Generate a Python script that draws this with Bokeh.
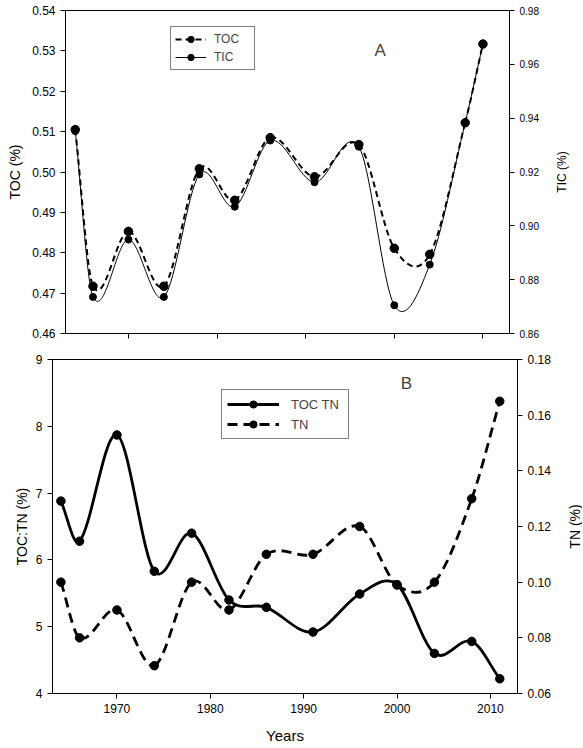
import math
import numpy as np
from bokeh.plotting import figure
from bokeh.layouts import column, row
from bokeh.core.properties import value
from bokeh.models import (Range1d, LinearAxis, FixedTicker, NumeralTickFormatter,
                          Legend, LegendItem, Label, ColumnDataSource)
from bokeh.embed import file_html
from bokeh.resources import INLINE

# panel A
years_a = [1964, 1966, 1970, 1974, 1978, 1982, 1986, 1991, 1996, 2000, 2004, 2008, 2010]
toc = [0.5105, 0.4717, 0.4853, 0.4717, 0.5008, 0.4930, 0.5085, 0.4988, 0.5068,
       0.4811, 0.4796, 0.5122, 0.5317]
tic = [0.9352, 0.8736, 0.8949, 0.8736, 0.9191, 0.9071, 0.9317, 0.9162, 0.9294,
       0.8705, 0.8856, 0.9383, 0.9676]

# panel B
years_b = [1964, 1966, 1970, 1974, 1978, 1982, 1986, 1991, 1996, 2000, 2004, 2008, 2011]
toc_tn = [6.88, 6.28, 7.87, 5.83, 6.40, 5.40, 5.29, 4.92, 5.49, 5.63, 4.60, 4.78, 4.22]
tn = [0.100, 0.080, 0.090, 0.070, 0.100, 0.090, 0.110, 0.110, 0.120, 0.099, 0.100, 0.130, 0.165]

year_ticks = [1970, 1980, 1990, 2000, 2010]

FONT = "Liberation Sans"


def smooth(xs, ys):
    # bezier pieces through the points (cardinal-spline tangents)
    x = np.asarray(xs, float)
    y = np.asarray(ys, float)
    m = np.empty_like(y)
    m[1:-1] = (y[2:] - y[:-2]) / (x[2:] - x[:-2])
    m[0] = (y[1] - y[0]) / (x[1] - x[0])
    m[-1] = (y[-1] - y[-2]) / (x[-1] - x[-2])
    h = np.diff(x) / 3
    return ColumnDataSource(dict(x0=x[:-1], y0=y[:-1], x1=x[1:], y1=y[1:],
                                 cx0=x[:-1] + h, cy0=y[:-1] + m[:-1] * h,
                                 cx1=x[1:] - h, cy1=y[1:] - m[1:] * h))


def style_axis(ax, size):
    ax.axis_line_color = "black"
    ax.major_tick_line_color = "black"
    ax.major_tick_out = 5
    ax.major_tick_in = 0
    ax.minor_tick_line_color = None
    ax.major_label_text_font = FONT
    ax.major_label_text_font_size = size
    ax.major_label_text_color = "black"
    ax.major_label_standoff = 5
    ax.axis_label_text_font = FONT
    ax.axis_label_text_font_size = "14px"
    ax.axis_label_text_font_style = "normal"
    ax.axis_label_text_color = "black"


def base(width, height, xr, yr, borders):
    p = figure(width=width, height=height, x_range=xr, y_range=yr,
               output_backend="svg", toolbar_location=None,
               min_border_left=borders[0], min_border_right=borders[1],
               min_border_top=borders[2], min_border_bottom=borders[3])
    p.xgrid.grid_line_color = None
    p.ygrid.grid_line_color = None
    p.outline_line_color = "black"
    p.outline_line_alpha = 1
    p.background_fill_color = "white"
    p.border_fill_color = "white"
    return p


def title_strip(text, size, width, height, top_border, bottom_border):
    # narrow strip holding a right-hand title that reads bottom to top
    s = figure(width=width, height=height, x_range=Range1d(0, 1), y_range=Range1d(0, 1),
               x_axis_type=None, y_axis_type=None, output_backend="svg",
               toolbar_location=None, min_border_left=0, min_border_right=0,
               min_border_top=top_border, min_border_bottom=bottom_border)
    s.outline_line_color = None
    s.xgrid.grid_line_color = None
    s.ygrid.grid_line_color = None
    s.text(x=[0.5], y=[0.5], text=[text], angle=math.pi / 2, text_font=value(FONT),
           text_font_size=size, text_color="black", text_align="center",
           text_baseline="middle")
    return s


# ---------------- panel A ----------------
top = base(548, 343, Range1d(1962.9, 2013.0), Range1d(0.46, 0.54), (65, 39, 10, 10))
top.extra_y_ranges = {"tic": Range1d(0.86, 0.98)}

style_axis(top.xaxis[0], "12px")
top.xaxis.ticker = FixedTicker(ticks=year_ticks)
top.xaxis.major_label_overrides = {t: "" for t in year_ticks}
top.xaxis.major_label_standoff = 0

style_axis(top.yaxis[0], "12px")
top.yaxis.ticker = FixedTicker(ticks=[0.46, 0.47, 0.48, 0.49, 0.50, 0.51, 0.52, 0.53, 0.54])
top.yaxis.formatter = NumeralTickFormatter(format="0.00")
top.yaxis.axis_label = "TOC (%)"
top.yaxis.axis_label_standoff = 6

ax_tic = LinearAxis(y_range_name="tic",
                    ticker=FixedTicker(ticks=[0.86, 0.88, 0.90, 0.92, 0.94, 0.96, 0.98]),
                    formatter=NumeralTickFormatter(format="0.00"))
style_axis(ax_tic, "10px")
top.add_layout(ax_tic, "right")

r_toc = top.bezier("x0", "y0", "x1", "y1", "cx0", "cy0", "cx1", "cy1",
                   source=smooth(years_a, toc), line_color="black", line_width=2,
                   line_dash="6 4")
s_toc = top.scatter(years_a, toc, size=8.5, color="black")
r_tic = top.bezier("x0", "y0", "x1", "y1", "cx0", "cy0", "cx1", "cy1",
                   source=smooth(years_a, tic), line_color="black", line_width=1,
                   y_range_name="tic")
s_tic = top.scatter(years_a, tic, size=7, color="black", y_range_name="tic")

leg_a = Legend(items=[LegendItem(label="TOC", renderers=[r_toc, s_toc]),
                      LegendItem(label="TIC", renderers=[r_tic, s_tic])],
               location=(105, 263), glyph_width=31, glyph_height=16, label_height=16,
               label_width=36, label_standoff=8, padding=4, spacing=2, margin=0,
               label_text_font=FONT, label_text_font_size="12px",
               border_line_color="black", border_line_width=1.5,
               background_fill_alpha=1)
top.add_layout(leg_a)
top.add_layout(Label(x=1998.4, y=0.530, text="A", text_font=FONT, text_font_size="17px",
                     text_align="center", text_baseline="middle"))

strip_a = title_strip("TIC (%)", "12px", 26, 343, 10, 10)

# ---------------- panel B ----------------
bot = base(566, 403, Range1d(1963.1, 2012.9), Range1d(4, 9), (52, 49, 16, 51))
bot.extra_y_ranges = {"tn": Range1d(0.06, 0.18)}

style_axis(bot.xaxis[0], "12px")
bot.xaxis.ticker = FixedTicker(ticks=year_ticks)
bot.xaxis.axis_label = "Years"
bot.xaxis.axis_label_text_font_size = "15px"
bot.xaxis.axis_label_standoff = 11

style_axis(bot.yaxis[0], "12px")
bot.yaxis.ticker = FixedTicker(ticks=[4, 5, 6, 7, 8, 9])
bot.yaxis.axis_label = "TOC:TN (%)"
bot.yaxis.axis_label_standoff = 3

ax_tn = LinearAxis(y_range_name="tn",
                   ticker=FixedTicker(ticks=[0.06, 0.08, 0.10, 0.12, 0.14, 0.16, 0.18]),
                   formatter=NumeralTickFormatter(format="0.00"))
style_axis(ax_tn, "12px")
bot.add_layout(ax_tn, "right")

r_ratio = bot.bezier("x0", "y0", "x1", "y1", "cx0", "cy0", "cx1", "cy1",
                     source=smooth(years_b, toc_tn), line_color="black", line_width=2.8)
s_ratio = bot.scatter(years_b, toc_tn, size=8.5, color="black")
r_tn = bot.bezier("x0", "y0", "x1", "y1", "cx0", "cy0", "cx1", "cy1",
                  source=smooth(years_b, tn), line_color="black", line_width=2.8,
                  line_dash="10 6", y_range_name="tn")
s_tn = bot.scatter(years_b, tn, size=8.5, color="black", y_range_name="tn")

leg_b = Legend(items=[LegendItem(label="TOC TN", renderers=[r_ratio, s_ratio]),
                      LegendItem(label="TN", renderers=[r_tn, s_tn])],
               location=(169, 254), glyph_width=52, glyph_height=18, label_height=18,
               label_width=52, label_standoff=12, padding=5, spacing=2, margin=0,
               label_text_font=FONT, label_text_font_size="13px",
               border_line_color="black", border_line_width=1.5,
               background_fill_alpha=1)
bot.add_layout(leg_b)
bot.add_layout(Label(x=2001.0, y=8.64, text="B", text_font=FONT, text_font_size="17px",
                     text_align="center", text_baseline="middle"))

strip_b = title_strip("TN (%)", "14px", 16, 403, 16, 51)

page = column(row(top, strip_a, spacing=0), row(bot, strip_b, spacing=0), spacing=0)
open("out.html", "w").write(file_html(page, INLINE))
